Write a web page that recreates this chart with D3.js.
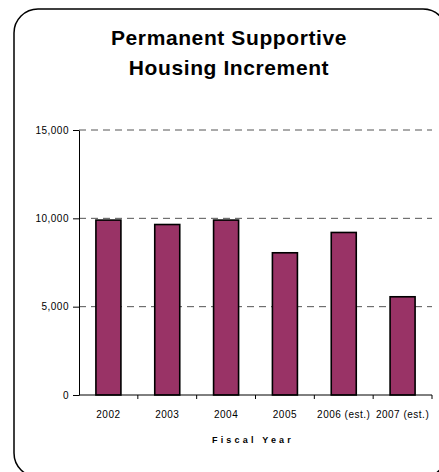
<!DOCTYPE html>
<html>
<head>
<meta charset="UTF-8">
<title>Permanent Supportive Housing Increment</title>
<style>
  body { margin: 0; background: #fff; }
  svg { display: block; font-family: "Liberation Sans", Arial, sans-serif; }
</style>
</head>
<body>
<script src="https://cdn.jsdelivr.net/npm/d3@7/dist/d3.min.js"></script>
<script>
// data
var years = ["2002", "2003", "2004", "2005", "2006 (est.)", "2007 (est.)"];
var units = [9900, 9650, 9900, 8050, 9200, 5560];
var yTicks = [0, 5000, 10000, 15000];
var titleLines = ["Permanent Supportive", "Housing Increment"];

var width = 439, height = 472;
var plot = {left: 79, right: 432, top: 130, bottom: 395};

var svg = d3.select("body").append("svg")
    .attr("width", width)
    .attr("height", height);

// rounded frame, partly clipped by the window
svg.append("rect")
    .attr("x", 14).attr("y", 9)
    .attr("width", 433).attr("height", 468)
    .attr("rx", 24).attr("ry", 24)
    .attr("fill", "none")
    .attr("stroke", "#000")
    .attr("stroke-width", 1.5);

// title
svg.append("g").selectAll("text")
    .data(titleLines)
    .join("text")
    .attr("x", 229)
    .attr("y", (d, i) => 45 + i * 30)
    .attr("text-anchor", "middle")
    .attr("font-size", 21)
    .attr("font-weight", "bold")
    .attr("letter-spacing", 0.6)
    .text(d => d);

var x = d3.scaleBand()
    .domain(years)
    .range([plot.left, plot.right])
    .paddingInner(0.575)
    .paddingOuter(0.2875);

var y = d3.scaleLinear()
    .domain([0, 15000])
    .range([plot.bottom, plot.top]);

// dashed gridlines
svg.append("g").selectAll("line")
    .data(yTicks.filter(d => d > 0))
    .join("line")
    .attr("x1", plot.left).attr("x2", plot.right)
    .attr("y1", d => y(d)).attr("y2", d => y(d))
    .attr("stroke", "#555")
    .attr("stroke-width", 1)
    .attr("stroke-dasharray", "7,5");

// bars
svg.append("g").selectAll("rect")
    .data(units)
    .join("rect")
    .attr("x", (d, i) => x(years[i]))
    .attr("y", d => y(d))
    .attr("width", x.bandwidth())
    .attr("height", d => y(0) - y(d))
    .attr("fill", "#993366")
    .attr("stroke", "#000")
    .attr("stroke-width", 1.6);

// y axis
var yAxis = svg.append("g")
    .attr("transform", "translate(" + plot.left + ",0)")
    .call(d3.axisLeft(y).tickValues(yTicks).tickFormat(d3.format(",")).tickSize(6).tickSizeOuter(0).tickPadding(4));
yAxis.select(".domain").attr("stroke", "#000");
yAxis.selectAll(".tick line").attr("stroke", "#000");
yAxis.selectAll("text")
    .attr("font-family", "Liberation Sans, Arial, sans-serif")
    .attr("font-size", 10)
    .attr("letter-spacing", 0.5)
    .attr("fill", "#000");

// x axis: line, ticks at category boundaries, labels centred
var xg = svg.append("g");
xg.append("line")
    .attr("x1", plot.left).attr("x2", plot.right)
    .attr("y1", y(0)).attr("y2", y(0))
    .attr("stroke", "#000");
var bounds = d3.range(years.length + 1).map(i => x.range()[0] + i * x.step());
xg.selectAll(".bt")
    .data(bounds.slice(1))
    .join("line")
    .attr("x1", d => d).attr("x2", d => d)
    .attr("y1", y(0)).attr("y2", y(0) + 4)
    .attr("stroke", "#000");
xg.selectAll("text")
    .data(years)
    .join("text")
    .attr("x", d => x(d) + x.bandwidth() / 2)
    .attr("y", 418)
    .attr("text-anchor", "middle")
    .attr("font-size", 10)
    .attr("letter-spacing", 0.5)
    .text(d => d);

// axis title
svg.append("text")
    .attr("x", 253)
    .attr("y", 443)
    .attr("text-anchor", "middle")
    .attr("font-size", 9)
    .attr("font-weight", "bold")
    .attr("letter-spacing", 3.2)
    .text("Fiscal Year");
</script>
</body>
</html>
